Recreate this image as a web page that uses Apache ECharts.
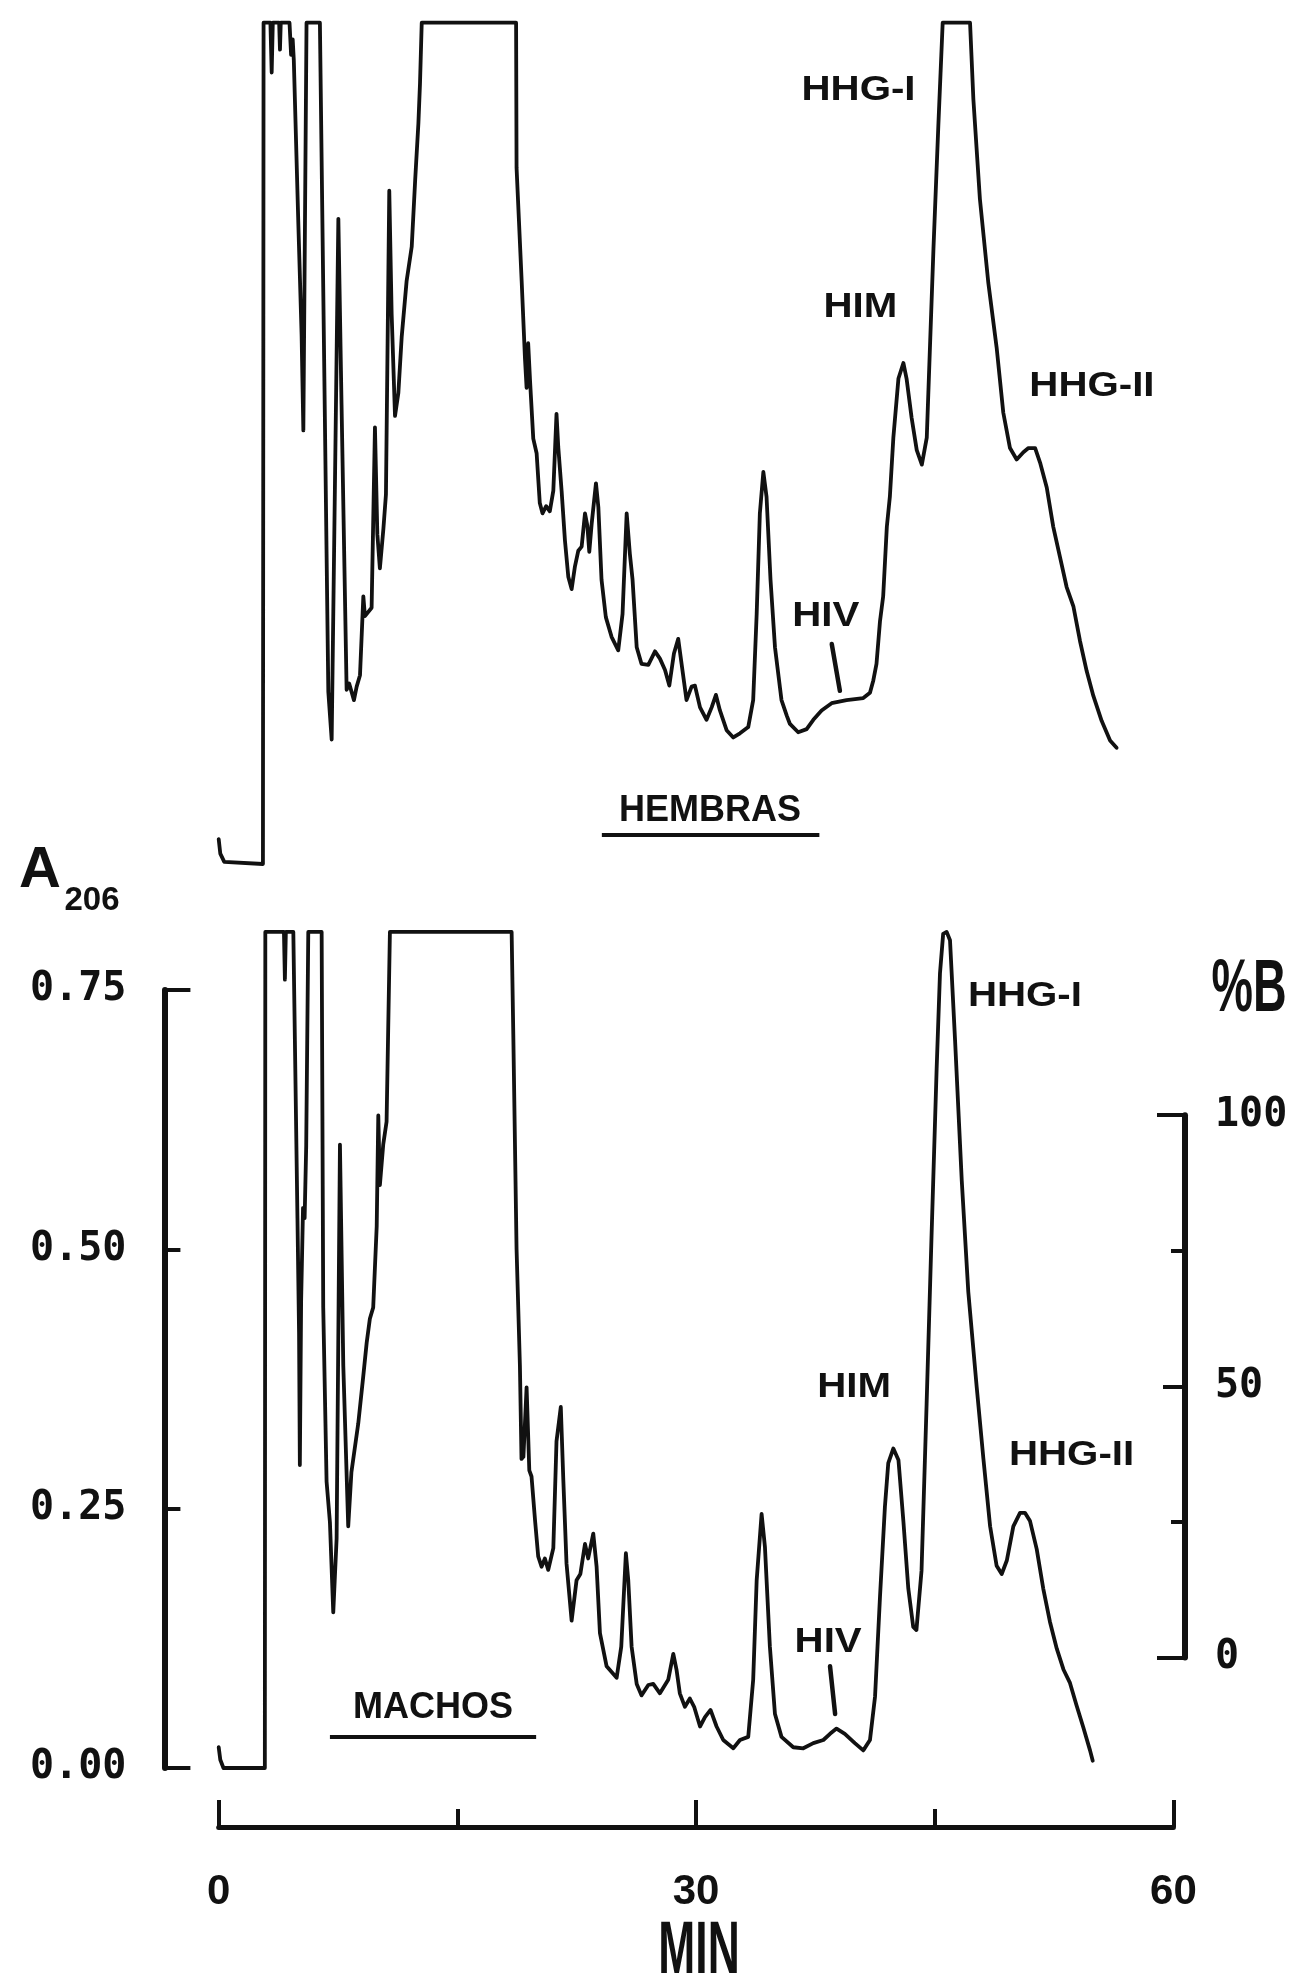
<!DOCTYPE html>
<html>
<head>
<meta charset="utf-8">
<script src="https://cdn.jsdelivr.net/npm/echarts@6/dist/echarts.min.js"></script>
<style>
html, body { margin: 0; padding: 0; background: #fff; }
#chart { width: 1291px; height: 1982px; }
</style>
</head>
<body>
<div id="chart"></div>
<script>
// RP-HPLC elution profiles, absorbance at 206 nm against time (min).
// Flat tops at about 0.81 are where the recorder pen ran off scale.

// HEMBRAS (females)
const hembrasTime = [
  0.00, 0.10, 0.35, 2.78, 2.82, 3.25, 3.33, 3.40, 3.80, 3.85, 3.90, 4.45, 4.55, 4.65, 4.72,
  5.00, 5.21, 5.32, 5.52, 6.36, 6.89, 7.10, 7.52, 7.72, 8.04, 8.20, 8.50, 8.67, 8.88, 9.09,
  9.19, 9.61, 9.82, 9.97, 10.13, 10.35, 10.51, 10.72, 10.87, 11.08, 11.29, 11.50, 11.81, 12.13, 12.35,
  12.55, 12.65, 12.76, 18.69, 18.72, 19.04, 19.25, 19.35, 19.45, 19.57, 19.77, 19.98, 20.18, 20.35, 20.58,
  20.81, 21.03, 21.23, 21.34, 21.55, 21.76, 21.97, 22.18, 22.39, 22.60, 22.81, 23.02, 23.17, 23.29, 23.44,
  23.71, 23.86, 24.06, 24.33, 24.69, 25.11, 25.38, 25.64, 25.84, 26.01, 26.27, 26.57, 27.00, 27.42, 27.73,
  28.05, 28.32, 28.61, 28.88, 29.09, 29.40, 29.72, 29.93, 30.25, 30.66, 30.98, 31.25, 31.50, 31.92, 32.34,
  32.76, 33.28, 33.59, 33.81, 34.01, 34.23, 34.43, 34.68, 34.96, 35.37, 35.70, 35.90, 36.42, 36.95, 37.37,
  37.89, 38.52, 39.46, 40.51, 40.93, 41.14, 41.34, 41.56, 41.76, 41.99, 42.18, 42.40, 42.72, 43.03, 43.23,
  43.55, 43.87, 44.19, 44.50, 44.70, 44.92, 45.23, 45.50, 47.22, 47.43, 47.84, 48.37, 48.89, 49.31, 49.73,
  50.15, 50.57, 50.89, 51.31, 51.62, 52.04, 52.45, 52.87, 53.29, 53.72, 54.13, 54.55, 54.97, 55.49, 56.02,
  56.43
];
const hembrasA206 = [
  0.024, 0.010, 0.002, 0.000, 0.811, 0.811, 0.763, 0.811, 0.811, 0.785, 0.811, 0.811, 0.780, 0.795, 0.775,
  0.620, 0.510, 0.418, 0.811, 0.811, 0.166, 0.120, 0.622, 0.443, 0.168, 0.174, 0.158, 0.171, 0.182, 0.258,
  0.239, 0.247, 0.421, 0.318, 0.285, 0.323, 0.356, 0.649, 0.530, 0.432, 0.454, 0.508, 0.562, 0.595, 0.660,
  0.714, 0.752, 0.811, 0.811, 0.671, 0.562, 0.487, 0.459, 0.502, 0.465, 0.410, 0.396, 0.348, 0.338, 0.345,
  0.340, 0.360, 0.434, 0.402, 0.360, 0.312, 0.277, 0.265, 0.287, 0.302, 0.306, 0.338, 0.326, 0.301, 0.328,
  0.367, 0.344, 0.274, 0.238, 0.219, 0.206, 0.241, 0.338, 0.299, 0.274, 0.209, 0.193, 0.192, 0.205, 0.198,
  0.187, 0.172, 0.203, 0.217, 0.193, 0.158, 0.171, 0.172, 0.151, 0.139, 0.151, 0.163, 0.148, 0.129, 0.122,
  0.126, 0.132, 0.158, 0.241, 0.338, 0.378, 0.354, 0.274, 0.209, 0.158, 0.143, 0.135, 0.127, 0.130, 0.139,
  0.148, 0.155, 0.158, 0.160, 0.165, 0.177, 0.193, 0.234, 0.258, 0.325, 0.354, 0.411, 0.468, 0.483, 0.468,
  0.430, 0.399, 0.385, 0.411, 0.498, 0.593, 0.713, 0.811, 0.811, 0.737, 0.641, 0.560, 0.498, 0.435, 0.401,
  0.390, 0.397, 0.401, 0.401, 0.387, 0.363, 0.325, 0.296, 0.267, 0.248, 0.215, 0.186, 0.162, 0.138, 0.119,
  0.112
];

// MACHOS (males)
const machosTime = [
  0.00, 0.10, 0.30, 2.90, 2.93, 4.10, 4.16, 4.22, 4.69, 4.95, 5.05, 5.10, 5.18, 5.30, 5.40,
  5.50, 5.63, 6.47, 6.57, 6.78, 6.99, 7.20, 7.41, 7.62, 7.83, 8.14, 8.34, 8.77, 9.08, 9.30,
  9.50, 9.71, 9.93, 10.03, 10.13, 10.34, 10.55, 10.76, 18.41, 18.52, 18.72, 18.93, 19.03, 19.15, 19.35,
  19.52, 19.66, 19.88, 20.08, 20.29, 20.50, 20.71, 21.03, 21.23, 21.50, 21.66, 21.86, 22.18, 22.49, 22.73,
  23.02, 23.22, 23.54, 23.75, 23.96, 24.38, 25.01, 25.30, 25.59, 25.74, 25.95, 26.27, 26.57, 27.00, 27.31,
  27.73, 28.25, 28.57, 28.78, 28.98, 29.30, 29.61, 29.88, 30.25, 30.56, 30.91, 31.29, 31.71, 32.34, 32.76,
  33.28, 33.59, 33.81, 34.12, 34.33, 34.64, 34.96, 35.37, 36.11, 36.74, 37.37, 38.00, 38.42, 38.83, 39.35,
  39.98, 40.51, 40.93, 41.25, 41.56, 41.87, 42.08, 42.40, 42.72, 43.03, 43.34, 43.65, 43.85, 44.17, 44.49,
  44.80, 45.12, 45.33, 45.53, 45.75, 45.96, 46.28, 46.70, 47.11, 47.64, 48.06, 48.48, 48.89, 49.21, 49.53,
  49.94, 50.36, 50.67, 50.99, 51.41, 51.82, 52.24, 52.67, 53.09, 53.50, 53.92, 54.34, 54.76, 54.93
];
const machosA206 = [
  0.020, 0.008, 0.000, 0.000, 0.806, 0.806, 0.760, 0.806, 0.806, 0.530, 0.420, 0.292, 0.450, 0.540, 0.530,
  0.600, 0.806, 0.806, 0.444, 0.276, 0.237, 0.150, 0.221, 0.601, 0.388, 0.233, 0.285, 0.332, 0.377, 0.410,
  0.433, 0.444, 0.522, 0.629, 0.562, 0.601, 0.623, 0.806, 0.806, 0.702, 0.500, 0.388, 0.298, 0.300, 0.367,
  0.287, 0.281, 0.239, 0.204, 0.194, 0.202, 0.191, 0.212, 0.315, 0.348, 0.277, 0.197, 0.142, 0.181, 0.187,
  0.216, 0.202, 0.226, 0.194, 0.130, 0.098, 0.087, 0.117, 0.207, 0.181, 0.117, 0.081, 0.070, 0.080, 0.081,
  0.072, 0.085, 0.110, 0.094, 0.072, 0.059, 0.067, 0.059, 0.040, 0.049, 0.056, 0.040, 0.027, 0.019, 0.027,
  0.030, 0.085, 0.181, 0.245, 0.213, 0.117, 0.052, 0.030, 0.020, 0.019, 0.024, 0.027, 0.033, 0.038, 0.033,
  0.024, 0.017, 0.027, 0.069, 0.165, 0.252, 0.294, 0.308, 0.297, 0.238, 0.173, 0.136, 0.133, 0.190, 0.351,
  0.513, 0.674, 0.766, 0.804, 0.806, 0.798, 0.701, 0.566, 0.459, 0.367, 0.298, 0.233, 0.195, 0.187, 0.200,
  0.233, 0.246, 0.246, 0.238, 0.211, 0.173, 0.141, 0.115, 0.095, 0.082, 0.060, 0.039, 0.017, 0.007
];

// axis scales and tick labels
const timeRange = [0, 60];
const timeTickLabels = ['0', '30', '60'];
const a206Range = [0, 0.75];
const a206TickLabels = ['0.00', '0.25', '0.50', '0.75'];
const percentBRange = [0, 100];
const percentBTickLabels = ['0', '50', '100'];

// peak and sample names
const peakNames = ['HHG-I', 'HIM', 'HHG-II', 'HIV'];
const groupNames = ['HEMBRAS', 'MACHOS'];

const zip = (xs, ys) => xs.map((x, i) => [x, ys[i]]);

const INK = '#111';
const MONO = '"DejaVu Sans Mono", "Liberation Mono", monospace';
const SANS = '"Liberation Sans", Arial, sans-serif';

const chart = echarts.init(document.getElementById('chart'), null, { renderer: 'canvas' });

const traceStyle = { color: INK, width: 3.8, join: 'round', cap: 'round' };

chart.setOption({
  animation: false,
  backgroundColor: '#ffffff',
  grid: [
    { left: 218.7, width: 954.7, top: 86, height: 778, containLabel: false, outerBoundsMode: 'none' },
    { left: 218.7, width: 954.7, top: 990, height: 778, containLabel: false, outerBoundsMode: 'none' },
    { left: 218.7, width: 966.3, top: 1115.2, height: 542.4, containLabel: false, outerBoundsMode: 'none' }
  ],
  xAxis: [
    { gridIndex: 0, type: 'value', min: timeRange[0], max: timeRange[1], show: false },
    {
      gridIndex: 1, type: 'value', min: timeRange[0], max: timeRange[1], interval: 30,
      position: 'bottom', offset: 59,
      axisLine: { show: true, onZero: false, lineStyle: { color: INK, width: 5 } },
      axisTick: { show: true, inside: true, length: 27, lineStyle: { color: INK, width: 4 } },
      minorTick: { show: true, splitNumber: 2, length: 18, lineStyle: { color: INK, width: 4 } },
      splitLine: { show: false },
      minorSplitLine: { show: false },
      axisLabel: {
        margin: 44, color: INK, fontFamily: SANS, fontWeight: 'bold', fontSize: 42,
        formatter: (v) => timeTickLabels[timeTickLabels.indexOf(String(v))] || ''
      }
    },
    { gridIndex: 2, type: 'value', min: timeRange[0], max: timeRange[1], show: false }
  ],
  yAxis: [
    { gridIndex: 0, type: 'value', min: a206Range[0], max: a206Range[1], show: false },
    {
      gridIndex: 1, type: 'value', min: a206Range[0], max: a206Range[1], interval: 0.25,
      position: 'left', offset: 54.3,
      axisLine: { show: true, onZero: false, lineStyle: { color: INK, width: 6 } },
      axisTick: { show: true, inside: true, length: 16, lineStyle: { color: INK, width: 4 } },
      splitLine: { show: false },
      axisLabel: {
        margin: 38, color: INK, fontFamily: MONO, fontWeight: 'bold', fontSize: 40,
        formatter: (v) => a206TickLabels[Math.round(v / 0.25)]
      }
    },
    {
      // longer end ticks at 0.00 and 0.75
      gridIndex: 1, type: 'value', min: a206Range[0], max: a206Range[1], interval: 0.75,
      position: 'left', offset: 54.3,
      axisLine: { show: false, onZero: false },
      axisTick: { show: true, inside: true, length: 26, lineStyle: { color: INK, width: 4 } },
      splitLine: { show: false },
      axisLabel: { show: false }
    },
    {
      gridIndex: 2, type: 'value', min: percentBRange[0], max: percentBRange[1], interval: 50,
      position: 'right',
      axisLine: { show: true, onZero: false, lineStyle: { color: INK, width: 6 } },
      axisTick: { show: true, inside: true, length: 22, lineStyle: { color: INK, width: 4 } },
      minorTick: { show: true, splitNumber: 2, length: 14, lineStyle: { color: INK, width: 4 } },
      splitLine: { show: false },
      minorSplitLine: { show: false },
      axisLabel: {
        margin: 30, color: INK, fontFamily: MONO, fontWeight: 'bold', fontSize: 40,
        formatter: (v) => percentBTickLabels[Math.round(v / 50)]
      }
    },
    {
      // longer end ticks at 0 and 100
      gridIndex: 2, type: 'value', min: percentBRange[0], max: percentBRange[1], interval: 100,
      position: 'right',
      axisLine: { show: false, onZero: false },
      axisTick: { show: true, inside: true, length: 28, lineStyle: { color: INK, width: 4 } },
      splitLine: { show: false },
      axisLabel: { show: false }
    }
  ],
  series: [
    {
      name: groupNames[0], type: 'line', xAxisIndex: 0, yAxisIndex: 0,
      data: zip(hembrasTime, hembrasA206), showSymbol: false, symbol: 'none',
      clip: false, lineStyle: traceStyle, silent: true
    },
    {
      name: groupNames[1], type: 'line', xAxisIndex: 1, yAxisIndex: 1,
      data: zip(machosTime, machosA206), showSymbol: false, symbol: 'none',
      clip: false, lineStyle: traceStyle, silent: true
    }
  ]
});

// ---- annotations, anchored in the data space of each trace ----
const px = (seriesIndex, t, a) => chart.convertToPixel({ seriesIndex }, [t, a]);

const peakLabelAnchors = [
  { s: 0, name: peakNames[0], t: 40.21, a: 0.746 },
  { s: 0, name: peakNames[1], t: 40.33, a: 0.537 },
  { s: 0, name: peakNames[2], t: 54.88, a: 0.460 },
  { s: 0, name: peakNames[3], t: 38.15, a: 0.239 },
  { s: 1, name: peakNames[0], t: 50.67, a: 0.744 },
  { s: 1, name: peakNames[1], t: 39.93, a: 0.367 },
  { s: 1, name: peakNames[2], t: 53.60, a: 0.301 },
  { s: 1, name: peakNames[3], t: 38.30, a: 0.121 }
];
const hivPointers = [
  { s: 0, from: [38.53, 0.212], to: [39.04, 0.167] },
  { s: 1, from: [38.42, 0.098], to: [38.74, 0.052] }
];
const groupLabels = [
  { s: 0, name: groupNames[0], t: 30.87, a: 0.051, line: [24.08, 37.75, 0.028] },
  { s: 1, name: groupNames[1], t: 13.47, a: 0.058, line: [6.99, 19.95, 0.030] }
];

const graphics = [];
peakLabelAnchors.forEach((p) => {
  const [x, y] = px(p.s, p.t, p.a);
  graphics.push({
    type: 'text', x, y, scaleX: 1.15, silent: true,
    style: { text: p.name, fill: INK, font: `bold 35px ${SANS}`, align: 'center', verticalAlign: 'middle' }
  });
});
hivPointers.forEach((p) => {
  const [x1, y1] = px(p.s, p.from[0], p.from[1]);
  const [x2, y2] = px(p.s, p.to[0], p.to[1]);
  graphics.push({
    type: 'line', silent: true, shape: { x1, y1, x2, y2 },
    style: { stroke: INK, lineWidth: 4.5, lineCap: 'round' }
  });
});
groupLabels.forEach((g) => {
  const [x, y] = px(g.s, g.t, g.a);
  graphics.push({
    type: 'text', x, y, silent: true,
    style: { text: g.name, fill: INK, font: `bold 36px ${SANS}`, align: 'center', verticalAlign: 'middle' }
  });
  const [x1, y1] = px(g.s, g.line[0], g.line[2]);
  const [x2] = px(g.s, g.line[1], g.line[2]);
  graphics.push({
    type: 'line', silent: true, shape: { x1, y1, x2, y2: y1 },
    style: { stroke: INK, lineWidth: 4 }
  });
});

// axis titles: A206 (left), %B (right) and MIN (below the time axis)
const minX = px(1, 30, 0)[0];
graphics.push(
  { type: 'text', x: 40, y: 871, silent: true,
    style: { text: 'A', fill: INK, font: `bold 58px ${SANS}`, align: 'center', verticalAlign: 'middle' } },
  { type: 'text', x: 92, y: 901, silent: true,
    style: { text: '206', fill: INK, font: `bold 33px ${SANS}`, align: 'center', verticalAlign: 'middle' } },
  { type: 'text', x: 1249, y: 991, scaleX: 0.63, silent: true,
    style: { text: '%B', fill: INK, font: `bold 74px ${SANS}`, align: 'center', verticalAlign: 'middle' } },
  { type: 'text', x: minX + 3, y: 1953, scaleX: 0.6, silent: true,
    style: { text: 'MIN', fill: INK, font: `bold 74px ${SANS}`, align: 'center', verticalAlign: 'middle' } }
);

chart.setOption({ graphic: graphics });
</script>
</body>
</html>
